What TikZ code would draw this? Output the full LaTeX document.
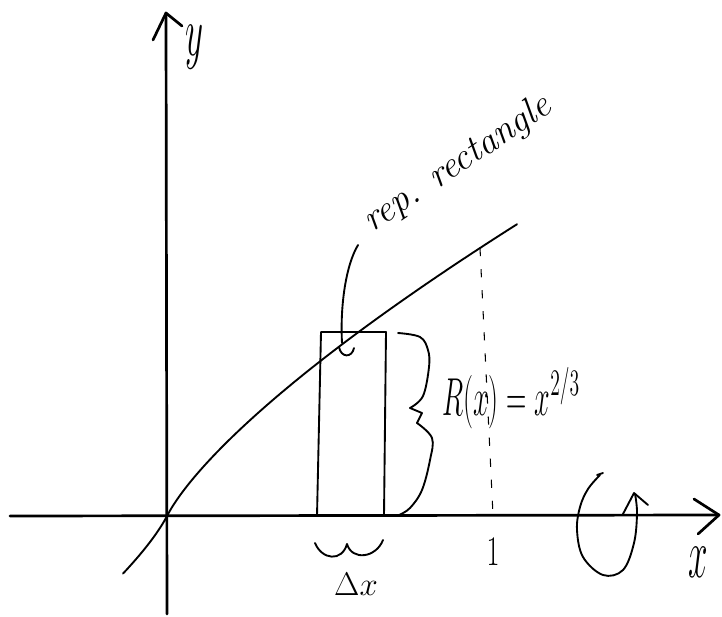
\documentclass[tikz,border=0pt]{standalone}
\usepackage{fix-cm}
\usepackage{graphicx}
\begin{document}
\begin{tikzpicture}[x=0.03cm,y=-0.03cm,
  ax/.style={line width=2.3pt, line cap=round, line join=round},
  pen/.style={line width=1.6pt, line cap=round, line join=round},
  dashpen/.style={line width=0.9pt, dash pattern=on 7pt off 11pt},
  lbl/.style={inner sep=0pt, outer sep=0pt}]
\useasboundingbox (0,0) rectangle (722,617);
% axes
\coordinate (O) at (167,516);
\coordinate (ybot) at (167,614);
\coordinate (ytip) at (166,13);
\coordinate (yl) at (153,40);
\coordinate (yr) at (182,26);
\coordinate (xleft) at (10,516);
\coordinate (xtip) at (719,515);
\coordinate (xu) at (694,499);
\coordinate (xd) at (698,534);
\draw[ax] (ybot) -- (ytip);
\draw[ax] (yl) -- (ytip) -- (yr);
\draw[ax] (xleft) -- (xtip);
\draw[ax] (xu) -- (xtip) -- (xd);
% curve  y = R(x), drawn about the origin O
\draw[pen] plot[domain=-44:0, samples=30, smooth] ({167+\x},{516+4.0*((abs(\x)+5)^0.738-5^0.738)})
  -- plot[domain=0:350, samples=90, smooth] ({167+\x},{516-4.0*((\x+5)^0.738-5^0.738)});
% rectangle
\coordinate (r1) at (317,516);
\coordinate (r2) at (321,332);
\coordinate (r3) at (386,332);
\coordinate (r4) at (384,516);
\draw[pen] (r1) -- (r2) -- (r3) -- (r4);
% dashed line at x=1
\coordinate (d1) at (480,248);
\coordinate (d2) at (493,515);
\draw[dashpen] (d1) -- (d2);
% right brace
\draw[pen] plot[smooth, tension=0.6] coordinates {(398,333) (420,337) (428,350) (429,367) (423,396) (410,408)};
\draw[pen] (410,408) -- (422,413) -- (417,423);
\draw[pen] plot[smooth, tension=0.6] coordinates {(417,423) (432,438) (430,460) (422,490) (410,508) (399,515)};
% delta x brace
\draw[pen] (315,543) .. controls (322,560) and (342,562) .. (347,544) .. controls (352,561) and (376,558) .. (383,540);
% rotation arrow
\draw[pen] plot[smooth, tension=0.6] coordinates {(600,475) (588,489) (580,507) (577,530) (583,557) (603,575) (623,570) (634,543) (637,513) (635,494)};
\draw[pen] (623,514) -- (634,493) -- (648,505);
\draw[pen] (597,475) -- (603,473);
% labels
\node[lbl] (ylab) at (195,47) {\fontsize{30}{30}\selectfont\scalebox{1}[2]{$y$}};
\node[lbl] (xlab) at (698,562) {\fontsize{30}{30}\selectfont\scalebox{1}[2]{$x$}};
\node[lbl] (one) at (493,552) {\fontsize{24}{24}\selectfont\scalebox{1}[1.5]{$1$}};
\node[lbl] (dx) at (356,584) {\fontsize{28}{28}\selectfont$\Delta x$};
\node[lbl, anchor=base west] (R) at (442,415) {\fontsize{24}{24}\selectfont\scalebox{1}[1.9]{$R(x)=x^{2/3}$}};
\node[lbl, anchor=base, rotate=34] (rep) at (463,172) {\fontsize{32}{32}\selectfont\itshape rep. rectangle};
% pointer
\coordinate (ps) at (358,245);
\coordinate (pe) at (342,343);
\draw[pen] (ps) .. controls (346,265) and (340,305) .. (pe);
\draw[pen] (339,347) .. controls (341,358) and (352,358) .. (354,348);
\end{tikzpicture}
\end{document}
